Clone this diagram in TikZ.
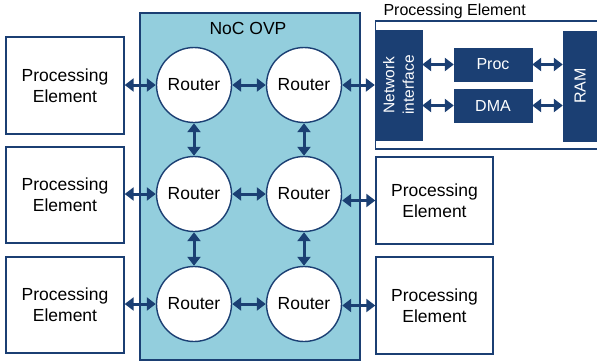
\documentclass[tikz,border=0pt]{standalone}
\usepackage{fontspec}
\setmainfont{Liberation Sans}
\usetikzlibrary{arrows.meta}
\definecolor{navy}{RGB}{27,63,115}
\definecolor{nocfill}{RGB}{147,206,221}
\tikzset{
  pebox/.style={draw=navy, line width=1.4pt, fill=white, minimum width=118pt,
    minimum height=96pt, align=center, inner sep=0pt,
    font=\fontsize{17.5}{21}\selectfont},
  router/.style={circle, draw=navy, line width=1.4pt, fill=white,
    minimum size=75pt, inner sep=0pt, font=\fontsize{17.5}{21}\selectfont},
  darkbox/.style={fill=navy, draw=navy, text=white, inner sep=0pt,
    font=\fontsize{16}{18}\selectfont},
  link/.style={navy, line width=3pt,
    {Triangle[width=13pt,length=9pt]}-{Triangle[width=13pt,length=9pt]}},
}
\begin{document}
\begin{tikzpicture}[x=1pt,y=-1pt]
\useasboundingbox (0,0) rectangle (597,362);
\fill[white] (0,0) rectangle (597,362);

% network-on-chip region
\node[draw=navy, line width=1.4pt, fill=nocfill, minimum width=220pt,
  minimum height=347pt, inner sep=0pt] (noc) at (250,186.5) {};
\node[font=\fontsize{17.5}{20}\selectfont] (noctitle) at (248,28) {NoC OVP};

% 2x3 router mesh
\node[router] (r11) at (194,85) {Router};
\node[router] (r12) at (304,85) {Router};
\node[router] (r21) at (194,194) {Router};
\node[router] (r22) at (304,194) {Router};
\node[router] (r31) at (194,304) {Router};
\node[router] (r32) at (304,304) {Router};

% processing elements on the left
\node[pebox, minimum height=97pt] (pl1) at (65,85.5) {Processing\\Element};
\node[pebox] (pl2) at (65,195) {Processing\\Element};
\node[pebox] (pl3) at (65,305) {Processing\\Element};

% processing elements on the right
\node[pebox, minimum width=117pt, minimum height=87pt] (pr2) at (434.5,200.5) {Processing\\Element};
\node[pebox, minimum width=117pt, minimum height=97pt] (pr3) at (434.5,305.5) {Processing\\Element};

% detailed processing element
\draw[navy, line width=1.4pt] (600,21) -- (375.7,21) -- (375.7,149) -- (600,149);
\node[font=\fontsize{16}{18}\selectfont, anchor=west] (petitle) at (380,11) {Processing Element};
\node[darkbox, minimum width=47pt, minimum height=110pt] (ni) at (398.5,85) {};
\node[text=white, rotate=90, align=center, inner sep=0pt,
  font=\fontsize{15.5}{19.5}\selectfont] (nitext) at (ni.center) {Network\\interface};
\node[darkbox, minimum width=78pt, minimum height=33pt] (proc) at (493,64.5) {Proc};
\node[darkbox, minimum width=78pt, minimum height=33pt] (dma) at (493,105.5) {DMA};
\node[darkbox, minimum width=40pt, minimum height=110pt] (ram) at (583,86) {};
\node[text=white, rotate=90, inner sep=0pt, font=\fontsize{16}{18}\selectfont]
  (ramtext) at (580,86) {RAM};

% links
\foreach \a/\b in {pl1/r11, pl2/r21, pl3/r31, r11/r12, r21/r22, r31/r32,
                   r22/pr2, r32/pr3}
  \draw[link] (\a.east |- \b) -- (\b.west);
\draw[link] (r12.east) -- (r12.east -| ni.west);
\foreach \a/\b in {r11/r21, r21/r31, r12/r22, r22/r32}
  \draw[link] (\a.south) -- (\b.north);
\draw[link] (ni.east |- proc) -- (proc.west);
\draw[link] (ni.east |- dma) -- (dma.west);
\draw[link] (proc.east) -- (proc.east -| ram.west);
\draw[link] (dma.east) -- (dma.east -| ram.west);
\end{tikzpicture}
\end{document}
